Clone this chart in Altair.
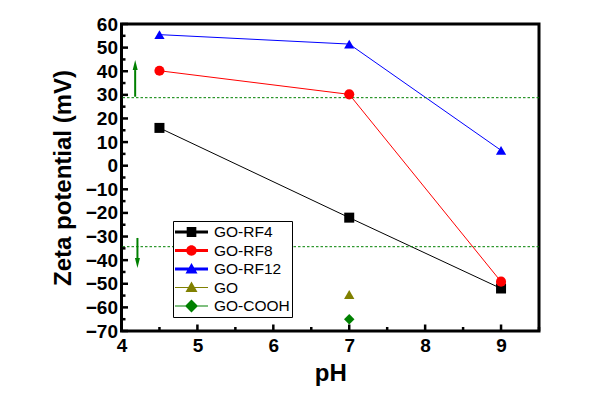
import altair as alt
import pandas as pd

# ---- data ----
ph = [4.5, 7, 9]
rf4 = [16.0, -22.0, -52.0]
rf8 = [40.2, 30.2, -49.1]
rf12 = [55.5, 51.5, 6.5]
go_ph = [7]
go = [-54.5]
cooh_ph = [7]
cooh = [-65.0]

series = ["GO-RF4", "GO-RF8", "GO-RF12", "GO", "GO-COOH"]
colors = ["#000000", "#ff0000", "#0000ff", "#808000", "#008000"]
sizes = [100, 110, 140, 140, 150]

thresholds = [28.8, -34.3]
arrow_x = [4.18, 4.21]
arrow_from = [29.2, -30.6]
arrow_to = [40.5, -39.3]
arrow_head = [42.6, -41.2]

x_ticks = [4, 5, 6, 7, 8, 9]
x_minor = [4.5, 5.5, 6.5, 7.5, 8.5, 9.5]
y_ticks = [-70, -60, -50, -40, -30, -20, -10, 0, 10, 20, 30, 40, 50, 60]
y_minor = [-65, -55, -45, -35, -25, -15, -5, 5, 15, 25, 35, 45, 55]

W, H = 417.5, 307

# ---- tables ----
lines_df = pd.DataFrame(
    [{"series": s, "ph": x, "zeta": v}
     for s, vals in zip(series[:3], [rf4, rf8, rf12])
     for x, v in zip(ph, vals)]
)
pts_df = pd.concat([
    lines_df,
    pd.DataFrame({"series": "GO", "ph": go_ph, "zeta": go}),
    pd.DataFrame({"series": "GO-COOH", "ph": cooh_ph, "zeta": cooh}),
], ignore_index=True)
th_df = pd.DataFrame({"zeta": thresholds})
arr_df = pd.DataFrame({"ph": arrow_x, "zeta": arrow_from, "y1": arrow_to,
                       "yh": arrow_head, "dir": ["up", "down"]})
leg_df = pd.DataFrame({"series": series})

xs = alt.Scale(domain=[4, 9.5], nice=False, zero=False)
ys = alt.Scale(domain=[-70, 60], nice=False, zero=False)
cscale = alt.Scale(domain=series, range=colors)
xax = alt.Axis(values=x_ticks, title="pH", labelPadding=5, titlePadding=6)
yax = alt.Axis(values=y_ticks, title="Zeta potential (mV)", labelPadding=4, titlePadding=10)

# legend symbols: r = 9px per unit; line spans 33px, marker centred at 16.5px
thick = "M-1,-0.167H2.667V0.167H-1Z"
thin = "M-1,-0.067H2.667V0.067H-1Z"
leg_paths = [
    thick + " M0.3,-0.55H1.37V0.55H0.3Z",
    thick + " M0.25,0A0.58,0.58 0 1,1 1.41,0A0.58,0.58 0 1,1 0.25,0Z",
    thick + " M0.833,-0.67L1.5,0.5H0.167Z",
    thin + " M0.833,-0.67L1.5,0.5H0.167Z",
    thin + " M0.833,-0.72L1.553,0L0.833,0.72L0.113,0Z",
]

X = alt.X("ph:Q", scale=xs, axis=xax)
Y = alt.Y("zeta:Q", scale=ys, axis=yax)

th = alt.Chart(th_df).mark_rule(color="#008000", strokeWidth=1, strokeDash=[2.5, 2]).encode(y=Y)

shaft = alt.Chart(arr_df).mark_rule(color="#008000", strokeWidth=2).encode(
    x=X, y=Y, y2="y1:Q",
)
heads = alt.Chart(arr_df).mark_point(filled=True, opacity=1, color="#008000", size=100).encode(
    x=X,
    y=alt.Y("yh:Q", scale=ys, axis=yax),
    shape=alt.Shape("dir:N", scale=alt.Scale(domain=["up", "down"],
                                              range=["M0,-1L0.5,1H-0.5Z", "M0,1L0.5,-1H-0.5Z"]),
                    legend=None),
)

lines = alt.Chart(lines_df).mark_line(strokeWidth=1).encode(
    x=X, y=Y,
    color=alt.Color("series:N", scale=cscale, legend=None),
    detail="series:N",
)

pts = alt.Chart(pts_df).mark_point(filled=True, opacity=1).encode(
    x=X, y=Y,
    color=alt.Color("series:N", scale=cscale, legend=None),
    shape=alt.Shape("series:N", scale=alt.Scale(
        domain=series, range=["square", "circle", "triangle-up", "triangle-up", "diamond"]), legend=None),
    size=alt.Size("series:N", scale=alt.Scale(domain=series, range=sizes), legend=None),
)

XT = alt.X("v:Q", scale=xs, axis=xax)
YT = alt.Y("v:Q", scale=ys, axis=yax)
xt_major = alt.Chart(pd.DataFrame({"v": x_ticks})).mark_rule(color="black", strokeWidth=2.5).encode(
    x=XT, y=alt.value(H), y2=alt.value(H - 6.5))
xt_minor = alt.Chart(pd.DataFrame({"v": x_minor})).mark_rule(color="black", strokeWidth=2.5).encode(
    x=XT, y=alt.value(H), y2=alt.value(H - 4))
yt_major = alt.Chart(pd.DataFrame({"v": y_ticks})).mark_rule(color="black", strokeWidth=2.5).encode(
    y=YT, x=alt.value(0), x2=alt.value(6.5))
yt_minor = alt.Chart(pd.DataFrame({"v": y_minor})).mark_rule(color="black", strokeWidth=2.5).encode(
    y=YT, x=alt.value(0), x2=alt.value(4))

leg_legend = alt.Legend(orient="none", legendX=51.5, legendY=197, labelFontSize=15.5,
                        rowPadding=0.5, labelOffset=21, padding=2)
legend_layer = alt.Chart(leg_df).mark_point(filled=True, opacity=1, size=324, clip=True).encode(
    x=alt.value(-600), y=alt.value(-600),
    color=alt.Color("series:N", scale=cscale, title=None, legend=leg_legend),
    shape=alt.Shape("series:N", scale=alt.Scale(domain=series, range=leg_paths),
                    title=None, legend=leg_legend),
)

chart = alt.layer(
    lines, th, shaft, heads, pts, xt_major, xt_minor, yt_major, yt_minor, legend_layer
).resolve_scale(color="independent", shape="independent").properties(
    width=W, height=H,
    autosize=alt.AutoSizeParams(type="none"),
    padding={"left": 113.5, "top": 16, "right": 50, "bottom": 60},
).configure_view(
    stroke="black", strokeWidth=3
).configure_axis(
    domain=False, ticks=False, grid=False,
    labelFont="Liberation Sans", labelFontWeight="bold", labelFontSize=19, labelColor="black",
    titleFont="Liberation Sans", titleFontWeight="bold", titleFontSize=24, titleColor="black",
    labelOverlap=False, labelFlush=False,
).configure_legend(
    strokeColor="black", fillColor="white", padding=2,
    labelFont="Liberation Sans", labelFontSize=15.5, labelColor="black",
    symbolStrokeWidth=0, symbolSize=324, rowPadding=0.5, labelOffset=21, symbolOpacity=1,
)

chart.save("out.html", embed_options={"renderer": "svg", "actions": False})
